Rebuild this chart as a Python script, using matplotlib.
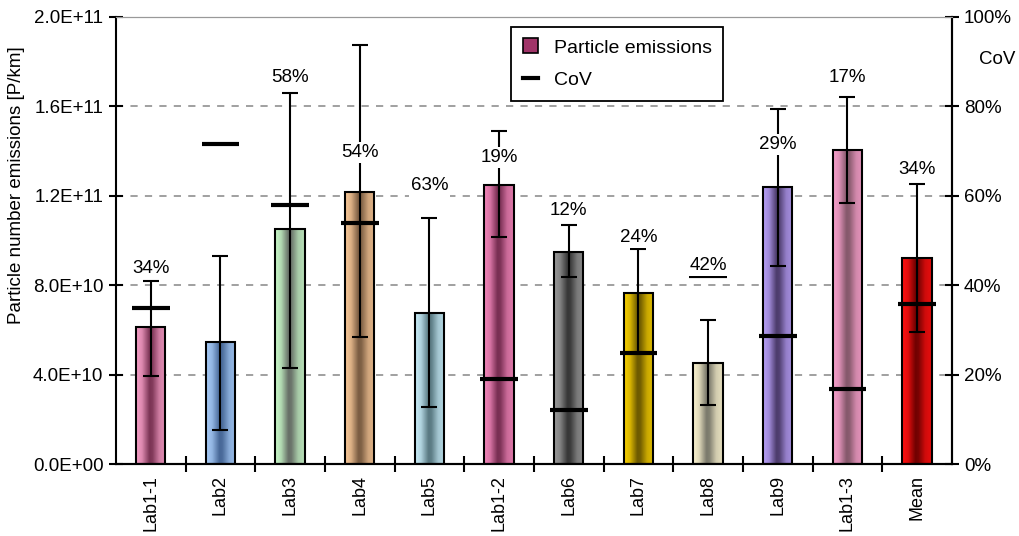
import numpy as np
import matplotlib
matplotlib.use('Agg')
import matplotlib.pyplot as plt
from matplotlib.colors import to_rgb
from matplotlib.patches import Patch
from matplotlib.lines import Line2D
from matplotlib.ticker import FuncFormatter

plt.rcParams['font.family'] = ['Liberation Sans', 'DejaVu Sans']

# data
categories = ['Lab1-1', 'Lab2', 'Lab3', 'Lab4', 'Lab5', 'Lab1-2',
              'Lab6', 'Lab7', 'Lab8', 'Lab9', 'Lab1-3', 'Mean']
emissions = [6.13e10, 5.46e10, 1.05e11, 1.217e11, 6.76e10, 1.248e11,
             9.49e10, 7.65e10, 4.52e10, 1.24e11, 1.405e11, 9.22e10]
err_high = [8.19e10, 9.3e10, 1.66e11, 1.875e11, 1.10e11, 1.49e11,
            1.07e11, 9.62e10, 6.44e10, 1.59e11, 1.64e11, 1.253e11]
err_low = [3.94e10, 1.52e10, 4.3e10, 5.7e10, 2.55e10, 1.016e11,
           8.37e10, 4.97e10, 2.64e10, 8.86e10, 1.17e11, 5.9e10]
cov = [35, 71.5, 58, 54, 63, 19, 12, 24.8, 42, 28.6, 16.8, 35.8]
cov_text = ['34%', '', '58%', '54%', '63%', '19%', '12%', '24%', '42%', '29%', '17%', '34%']
text_at = [43.8, None, 86.4, 69.6, 62.2, 68.5, 56.6, 50.6, 44.5, 71.4, 86.4, 65.8]

# bar shading (light, dark)
shades = [('#f7a0c8', '#6e2848'), ('#a8ccf8', '#3c5c8c'), ('#c8f8c8', '#5c605c'),
          ('#f8c898', '#6c5038'), ('#c8ecf8', '#4c6c74'), ('#f488bc', '#6a2446'),
          ('#9a9a9a', '#2c2c2c'), ('#f8d000', '#5c4c00'), ('#fcf4d0', '#6c6c60'),
          ('#b8a0f8', '#40305c'), ('#f8a0cc', '#785060'), ('#ff1010', '#600000')]

fig = plt.figure(figsize=(10.19, 5.36), dpi=100)
ax = fig.add_axes([0.1138, 0.1343, 0.8204, 0.8340])

x = np.arange(len(categories))
w = 0.42
prof_x = [0, 0.2, 0.45, 0.55, 0.78, 1.0]
prof_t = [0.0, 0.2, 0.9, 0.85, 0.3, 0.15]
xs = np.linspace(0, 1, 60)
t = np.interp(xs, prof_x, prof_t)[:, None]

for i, v in enumerate(emissions):
    lo, hi = np.array(to_rgb(shades[i][0])), np.array(to_rgb(shades[i][1]))
    grad = (lo * (1 - t) + hi * t)[None, :, :]
    ax.imshow(grad, extent=[x[i] - w / 2, x[i] + w / 2, 0, v], aspect='auto',
              zorder=1, interpolation='bilinear')
ax.bar(x, emissions, width=w, facecolor='none', edgecolor='black', lw=1.5, zorder=2)

yerr = [np.array(emissions) - np.array(err_low), np.array(err_high) - np.array(emissions)]
ax.errorbar(x, emissions, yerr=yerr, fmt='none', ecolor='black', elinewidth=1.5,
            capsize=5.5, capthick=1.5, zorder=3)

ax.set_xlim(-0.5, len(categories) - 0.5)
ax.set_ylim(0, 2.0e11)
ax.set_yticks(np.arange(0, 2.01e11, 4e10))
ax.yaxis.set_major_formatter(FuncFormatter(lambda v, p: '%.1E' % v))
ax.set_axisbelow(True)
ax.yaxis.grid(True, color='#999999', ls=(0, (4, 4)), lw=1.3)
ax.set_xticks(x)
ax.set_xticklabels(categories, rotation=90, fontsize=13)
ax.set_xticks(x[:-1] + 0.5, minor=True)
ax.tick_params(axis='x', which='major', length=0, pad=8)
ax.tick_params(axis='x', which='minor', direction='inout', length=12, width=1.5)
ax.tick_params(axis='y', direction='inout', length=10, width=1.5, labelsize=13.5, pad=4)
ax.set_ylabel('Particle number emissions [P/km]', fontsize=13.5)
ax.yaxis.set_label_coords(-0.109, 0.624)
ax.spines['top'].set_color('#999999')
for s in ['left', 'bottom', 'right']:
    ax.spines[s].set_linewidth(1.5)

ax2 = ax.twinx()
ax2.set_ylim(0, 100)
ax2.set_yticks(np.arange(0, 101, 20))
ax2.yaxis.set_major_formatter(FuncFormatter(lambda v, p: '%d%%' % v))
ax2.tick_params(axis='y', direction='inout', length=10, width=1.5, labelsize=13.5)
ax2.spines['top'].set_color('#999999')
ax2.spines['right'].set_linewidth(1.5)
ax2.spines['left'].set_visible(False)
ax2.spines['bottom'].set_linewidth(1.5)

ax2.hlines(cov, x - 0.27, x + 0.27, color='black', lw=3, zorder=4)
for i, s in enumerate(cov_text):
    if s:
        ax2.text(x[i], text_at[i], s, ha='center', va='center', fontsize=13.5, zorder=5,
                 bbox=dict(facecolor='white', edgecolor='none', pad=1.5))

fig.text(997 / 1019, 1 - 60 / 536, 'CoV', ha='center', va='center', fontsize=13.5)

handles = [Patch(facecolor='#a03468', edgecolor='black', lw=1.2),
           Line2D([], [], color='black', lw=3)]
leg = ax2.legend(handles, ['Particle emissions', 'CoV'], loc='upper left',
                 bbox_to_anchor=(0.4725, 0.978), borderaxespad=0, fontsize=14,
                 fancybox=False, edgecolor='black', framealpha=1, handlelength=0.8,
                 handleheight=0.8, labelspacing=0.75, borderpad=0.6, handletextpad=0.8)
leg.get_frame().set_linewidth(1.3)
leg.set_zorder(10)

fig.savefig('out.png', dpi=100)
